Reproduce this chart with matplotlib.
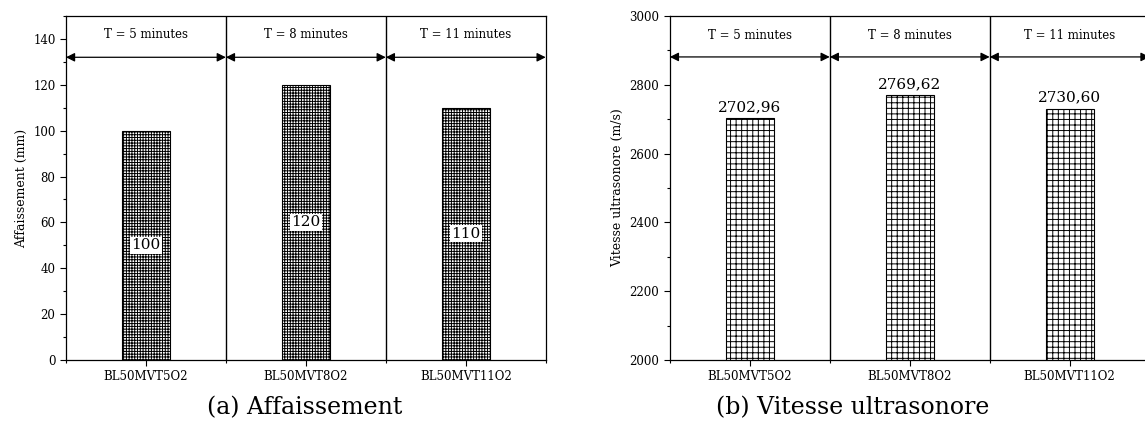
import numpy as np
import matplotlib
matplotlib.use("Agg")
import matplotlib.pyplot as plt
from matplotlib.ticker import MultipleLocator, FixedLocator

plt.rcParams['font.family'] = ['DejaVu Serif']
plt.rcParams['hatch.linewidth'] = 0.7

# Data
categories = ["BL50MVT5O2", "BL50MVT8O2", "BL50MVT11O2"]
periods = ["T = 5 minutes", "T = 8 minutes", "T = 11 minutes"]
affaissement = [100, 120, 110]
vitesse = [2702.96, 2769.62, 2730.60]
vitesse_labels = ["2702,96", "2769,62", "2730,60"]

fig = plt.figure(figsize=(11.45, 4.36), dpi=100)
ax1 = fig.add_axes([0.0576, 0.1743, 0.419, 0.789])
ax2 = fig.add_axes([0.585, 0.1743, 0.419, 0.789])

x = np.arange(len(categories))


def style_axis(ax, ymin, ymax, major, arrow_y, text_y):
    ax.set_xlim(-0.5, len(categories) - 0.5)
    ax.set_ylim(ymin, ymax)
    ax.set_xticks(x)
    ax.set_xticklabels(categories, fontsize=8.5)
    ax.xaxis.set_minor_locator(FixedLocator(np.arange(-0.5, len(categories), 1.0)))
    ax.yaxis.set_major_locator(MultipleLocator(major))
    ax.yaxis.set_minor_locator(MultipleLocator(major / 2))
    ax.tick_params(axis='both', which='major', direction='out', length=4, width=0.8, labelsize=8.5)
    ax.tick_params(axis='both', which='minor', direction='out', length=2.5, width=0.8)
    for s in ax.spines.values():
        s.set_linewidth(0.9)
    # separators between periods
    for sep in np.arange(0.5, len(categories) - 0.5, 1.0):
        ax.axvline(sep, color='black', lw=1.0)
    # double arrows and period labels
    for i, label in enumerate(periods):
        ax.annotate("", xy=(i - 0.5, arrow_y), xytext=(i + 0.5, arrow_y),
                    arrowprops=dict(arrowstyle='<|-|>', color='black', lw=0.9,
                                    mutation_scale=13, shrinkA=0, shrinkB=0))
        ax.text(i, text_y, label, ha='center', va='center', fontsize=8.5)


# (a) Affaissement
ax1.bar(x, affaissement, width=0.3, color='white', edgecolor='black',
        hatch='++++++', linewidth=0.8)
for i, v in enumerate(affaissement):
    ax1.text(i, v / 2, str(v), ha='center', va='center', fontsize=11,
             bbox=dict(facecolor='white', edgecolor='none', pad=1))
style_axis(ax1, 0, 150, 20, 132, 141.8)
ax1.set_ylabel("Affaissement (mm)", fontsize=9)

# (b) Vitesse ultrasonore
ax2.bar(x, vitesse, width=0.3, color='white', edgecolor='black',
        hatch='+++', linewidth=0.8)
for i, v in enumerate(vitesse):
    ax2.text(i, v + 12, vitesse_labels[i], ha='center', va='bottom', fontsize=11)
style_axis(ax2, 2000, 3000, 200, 2881, 2942)
ax2.set_ylabel("Vitesse ultrasonore (m/s)", fontsize=9)

fig.text(0.266, 0.064, "(a) Affaissement", ha='center', va='center', fontsize=17)
fig.text(0.745, 0.064, "(b) Vitesse ultrasonore", ha='center', va='center', fontsize=17)

fig.savefig("out.png", dpi=100)
